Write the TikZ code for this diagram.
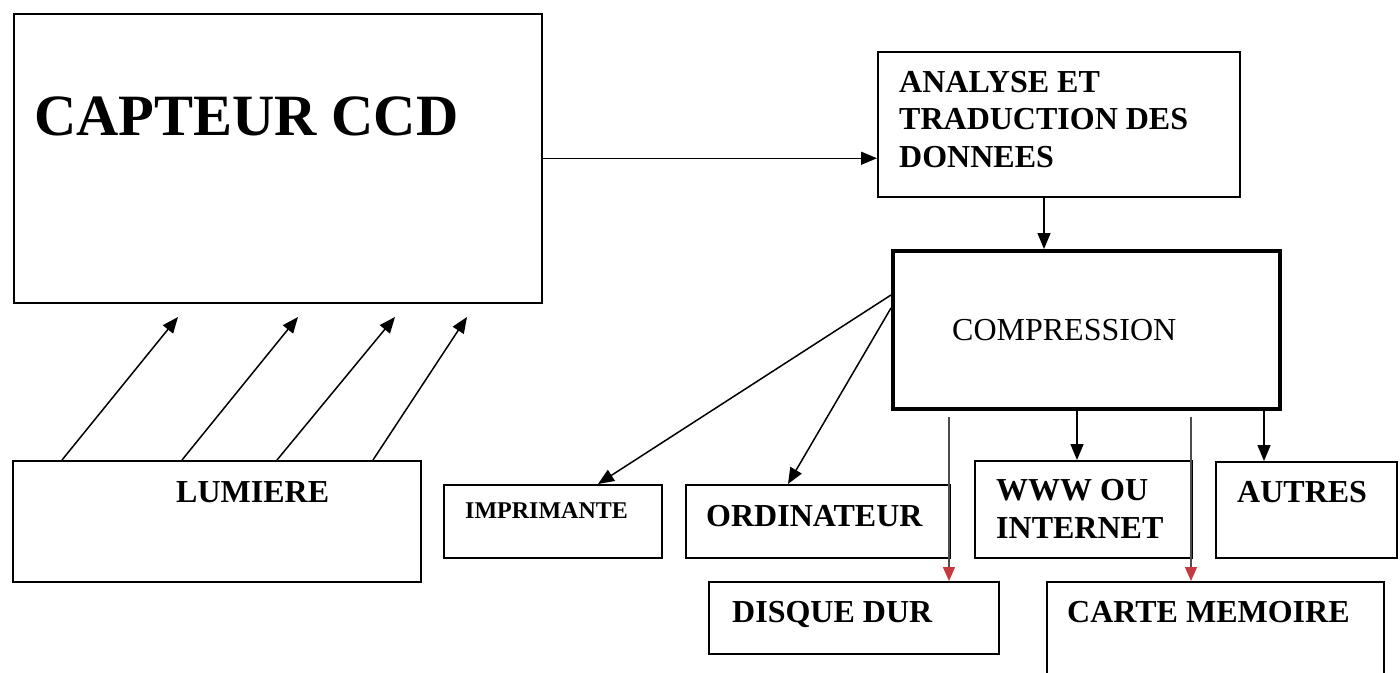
\documentclass[tikz,border=0pt]{standalone}
\usepackage{fontspec}
\setmainfont{Liberation Serif}
\usetikzlibrary{calc,arrows.meta}
\definecolor{tipred}{RGB}{196,58,64}
\newcommand{\bloc}[6][]{
	\node[bloc,#1,minimum width=#5pt,minimum height=#6pt] (#2) at (#3,#4) {};
}

\begin{document}
\begin{tikzpicture}[x=1pt,y=-1pt,
	bloc/.style={draw, line width=1.5pt, inner sep=0pt, anchor=north west},
	lbl/.style={anchor=base west, inner sep=0pt, align=left, font=\bfseries\fontsize{32}{37.5}\selectfont},
	fleche/.style={line width=1.5pt, -{Triangle[length=16pt,width=13pt]}},
	rouge/.style={line width=1.5pt, draw=black!70, -{Triangle[length=14pt,width=12pt,color=tipred]}}]
	\useasboundingbox (0,0) rectangle (1400,672);

	\bloc{capteur}{13}{13}{528}{289}
	\bloc{analyse}{877}{51}{362}{145}
	\bloc[line width=3.5pt]{compression}{891}{249}{387}{158}
	\bloc{lumiere}{12}{460}{408}{121}
	\bloc{imprimante}{443}{484}{218}{73}
	\bloc{ordinateur}{685}{484}{264}{73}
	\bloc{www}{974}{460}{217}{97}
	\bloc{autres}{1215}{461}{181}{96}
	\bloc{disque}{708}{581}{290}{72}
	\bloc{carte}{1046}{581}{337}{99}

	\node[lbl, font=\bfseries\fontsize{58.5}{60}\selectfont] (l-capteur) at (34,135) {CAPTEUR CCD};
	\node[lbl] (l-analyse) at (899,167) {ANALYSE ET\\TRADUCTION DES\\DONNEES};
	\node[lbl, font=\fontsize{32}{38}\selectfont] (l-compression) at (952,340) {COMPRESSION};
	\node[lbl] (l-lumiere) at (176,502) {LUMIERE};
	\node[lbl, font=\bfseries\fontsize{24}{28}\selectfont] (l-imprimante) at (465,518) {IMPRIMANTE};
	\node[lbl] (l-ordinateur) at (706,526) {ORDINATEUR};
	\node[lbl] (l-www) at (996,538) {WWW OU\\INTERNET};
	\node[lbl] (l-autres) at (1237,502) {AUTRES};
	\node[lbl] (l-disque) at (732,622) {DISQUE DUR};
	\node[lbl] (l-carte) at (1067,622) {CARTE MEMOIRE};

	% capteur -> analyse -> compression
	\draw[fleche] (capteur.east) -- (capteur.east -| analyse.west);
	\coordinate (a-bas) at ($(analyse.south west)+(167,0)$);
	\draw[fleche] (a-bas) -- (a-bas |- compression.north);

	% sorties
	\draw[fleche] ($(compression.north west)+(0,46)$) -- ($(imprimante.north west)+(155,0)$);
	\draw[fleche] ($(compression.north west)+(0,59)$) -- ($(ordinateur.north west)+(103,0)$);
	\coordinate (w-haut) at ($(www.north west)+(103,0)$);
	\draw[fleche] (w-haut |- compression.south) -- (w-haut);
	\coordinate (au-haut) at ($(autres.north west)+(49,0)$);
	\draw[fleche] (au-haut |- compression.south) -- (au-haut);
	\coordinate (d-dep) at ($(compression.south west)+(58,6)$);
	\draw[rouge] (d-dep) -- (d-dep |- disque.north);
	\coordinate (c-dep) at ($(compression.south west)+(300,6)$);
	\draw[rouge] (c-dep) -- (c-dep |- carte.north);

	% lumiere
	\foreach \a/\b [count=\i] in {50/178,170/298,265/395,361/467}{
		\coordinate (rayon\i) at (\b,317);
		\draw[fleche] ($(lumiere.north west)+(\a,0)$) -- (rayon\i);
	}
\end{tikzpicture}
\end{document}
